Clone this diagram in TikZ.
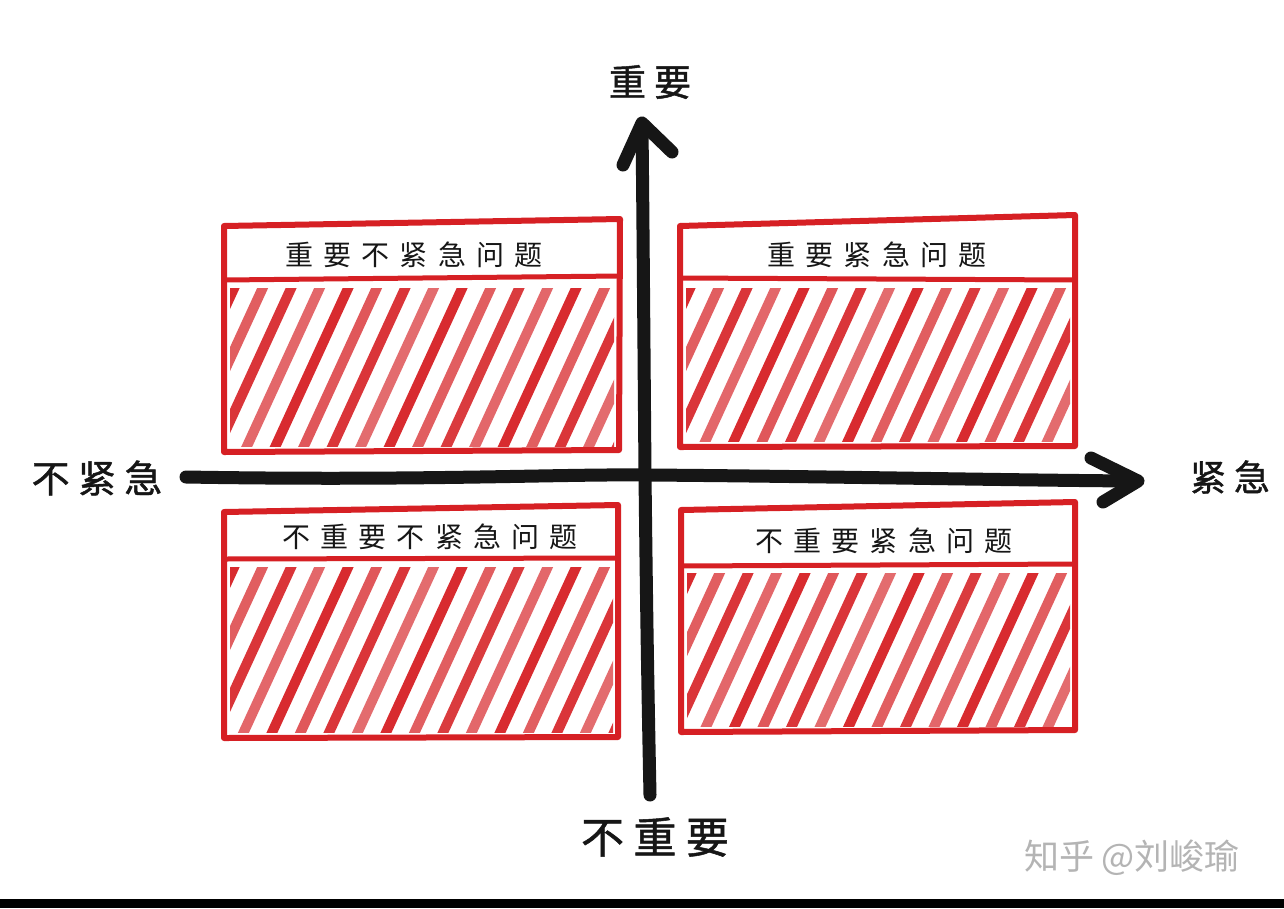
\documentclass[tikz,border=0pt]{standalone}
\usepackage{fontspec}
\newfontfamily\cjk{Noto Sans CJK SC}
\definecolor{pen}{RGB}{214,32,36}
\definecolor{ink}{RGB}{22,22,22}
\definecolor{wm}{RGB}{180,180,180}
\tikzset{
  frame/.style={draw=pen, line width=6pt, line join=round, line cap=round},
  headline/.style={draw=pen, line width=5pt, line cap=round},
  stripe/.style={draw=pen, line width=10pt},
  headtext/.style={inner sep=0pt, text=ink, font=\cjk\fontsize{28}{28}\selectfont\addfontfeature{LetterSpace=36}},
  axislabel/.style={inner sep=0pt, text=ink, font=\cjk\fontsize{#1}{#1}\selectfont\addfontfeature{LetterSpace=22,FakeBold=1.2}},
  axisline/.style={draw=ink, line width=13pt, line cap=round, line join=round},
}
\newcommand\hatchfill[4]{%
  \begin{scope}
    \clip (#1,#2) rectangle (#3,#4);
    \pgfmathsetmacro\hdx{(#4-#2)*0.47}
    \foreach \o [count=\k] in {0.95,0.72,0.9,0.68,0.95,0.75,0.9,0.66,0.95,0.72,0.88,0.68,0.95,0.72,0.9,0.66,0.88,0.72}{
      \pgfmathsetmacro\xb{#1-\hdx+4+(\k-1)*28.5}
      \draw[stripe, opacity=\o] (\xb,#4+4) -- (\xb+\hdx+2,#2-4);
    }
  \end{scope}}
\begin{document}
\begin{tikzpicture}[x=1pt,y=-1pt]
\useasboundingbox (0,0) rectangle (1284,908);
\fill[white] (0,0) rectangle (1284,908);
\fill[black] (0,899) rectangle (1284,908);

% ---------- boxes ----------
% top-left
\hatchfill{230}{288}{614}{446}
\draw[frame] (224,226) coordinate (a1) -- (620,219) coordinate (a2) -- (619,450) coordinate (a3) -- (224,452) coordinate (a4) -- cycle;
\draw[headline] (224,280) -- (620,276);
\node[headtext] (h1) at (414,255) {重要不紧急问题};

% top-right
\hatchfill{686}{288}{1070}{441}
\draw[frame] (680,226) coordinate (b1) -- (1075,215) coordinate (b2) -- (1075,446) coordinate (b3) -- (680,447) coordinate (b4) -- cycle;
\draw[headline] (680,278) -- (1075,280);
\node[headtext] (h2) at (877,255) {重要紧急问题};

% bottom-left
\hatchfill{230}{567}{613}{732}
\draw[frame] (224,512) coordinate (c1) -- (618,505) coordinate (c2) -- (618,737) coordinate (c3) -- (224,738) coordinate (c4) -- cycle;
\draw[headline] (224,559) -- (618,558);
\node[headtext] (h3) at (430,537) {不重要不紧急问题};

% bottom-right
\hatchfill{687}{573}{1070}{726}
\draw[frame] (681,510) coordinate (d1) -- (1075,502) coordinate (d2) -- (1075,730) coordinate (d3) -- (681,732) coordinate (d4) -- cycle;
\draw[headline] (681,566) -- (1075,564);
\node[headtext] (h4) at (884,541) {不重要紧急问题};

% ---------- axes ----------
\coordinate (xs) at (186,477);
\coordinate (xe) at (1132,481);
\coordinate (ys) at (650,795);
\coordinate (ye) at (642,127);
\draw[axisline] (xs) .. controls (420,481) and (560,474) .. (645,475)
                    .. controls (800,476) and (1000,480) .. (xe);
\draw[axisline] (1091,458) -- (1138,481) -- (1103,502);
\draw[axisline] (ys) .. controls (647,650) and (646,560) .. (645,475)
                    .. controls (644,350) and (643,220) .. (ye);
\draw[axisline] (623,165) -- (642,123) -- (672,152);

% ---------- axis labels ----------
\node[axislabel=37] (top) at (650,82) {重要};
\node[axislabel=43] (bottom) at (655,837) {不重要};
\node[axislabel=38] (left) at (97,478) {不紧急};
\node[axislabel=36] (right) at (1230,477) {紧急};

% ---------- watermark ----------
\node[inner sep=0pt, text=wm, font=\cjk\fontsize{35}{35}\selectfont] (wmark) at (1132,858) {知乎 @刘峻瑜};
\end{tikzpicture}
\end{document}
